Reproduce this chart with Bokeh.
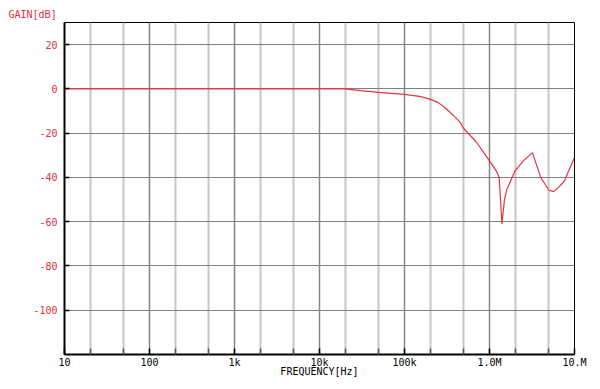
from bokeh.plotting import figure
from bokeh.models import FixedTicker, Title
from bokeh.embed import file_html
from bokeh.resources import INLINE

# Frequency response data
freq_hz = [10, 20000, 30000, 50000, 70000, 100000, 150000, 200000, 250000,
           300000, 400000, 450000, 500000, 700000, 1000000, 1200000, 1300000,
           1400000, 1500000, 1600000, 2000000, 2500000, 3200000, 4000000,
           5000000, 5700000, 6500000, 7600000, 10000000]
gain_db = [0, 0, -0.8, -1.6, -2.0, -2.5, -3.4, -4.6, -6.2,
           -8.5, -13.0, -15.0, -18.0, -24.0, -32.5, -37.0, -40.0,
           -61.0, -50.0, -45.4, -37.0, -32.5, -28.8, -40.0,
           -45.8, -46.4, -44.5, -41.6, -31.0]

x_ticks = [10, 100, 1000, 10000, 100000, 1000000, 10000000]
x_tick_labels = ["10", "100", "1k", "10k", "100k", "1.0M", "10.M"]
x_minor_ticks = [20, 50, 200, 500, 2000, 5000, 20000, 50000,
                 200000, 500000, 2000000, 5000000]
y_ticks = [20, 0, -20, -40, -60, -80, -100]
y_tick_labels = ["20", "0", "-20", "-40", "-60", "-80", "-100"]

FONT = "DejaVu Sans Mono"
RED = "#e0303c"

p = figure(width=592, height=381, x_axis_type="log",
           x_range=(10, 10000000), y_range=(-120, 30),
           output_backend="svg", toolbar_location=None,
           min_border_left=64, min_border_right=18,
           min_border_top=22, min_border_bottom=27)
p.background_fill_color = "white"
p.border_fill_color = "white"
p.outline_line_color = "black"
p.outline_line_width = 1

xt = FixedTicker(ticks=x_ticks, minor_ticks=x_minor_ticks)
p.xaxis.ticker = xt
p.xgrid.ticker = xt
p.xaxis.major_label_overrides = {t: l for t, l in zip(x_ticks, x_tick_labels)}
p.xgrid.grid_line_color = "#858585"
p.xgrid.grid_line_width = 1.5
p.xgrid.minor_grid_line_color = "#c4c4c4"
p.xgrid.minor_grid_line_width = 2

yt = FixedTicker(ticks=y_ticks, minor_ticks=[])
p.yaxis.ticker = yt
p.ygrid.ticker = yt
p.yaxis.major_label_overrides = {t: l for t, l in zip(y_ticks, y_tick_labels)}
p.ygrid.grid_line_color = "#808080"
p.ygrid.grid_line_width = 1

for ax in (p.xaxis, p.yaxis):
    ax.axis_line_color = "black"
    ax.axis_line_width = 2
    ax.major_tick_line_color = "black"
    ax.major_tick_line_width = 1.5
    ax.major_tick_out = 0
    ax.major_label_text_font = FONT
    ax.major_label_text_font_size = "10px"

p.xaxis.major_tick_in = 6
p.xaxis.minor_tick_in = 6
p.xaxis.minor_tick_out = 0
p.xaxis.minor_tick_line_color = "#555555"
p.xaxis.minor_tick_line_width = 1.5
p.xaxis.major_label_standoff = 2
p.xaxis.major_label_text_color = "black"
p.xaxis.axis_label = "FREQUENCY[Hz]"
p.xaxis.axis_label_text_font = FONT
p.xaxis.axis_label_text_font_size = "10px"
p.xaxis.axis_label_text_font_style = "normal"
p.xaxis.axis_label_text_color = "black"
p.xaxis.axis_label_standoff = -5

p.yaxis.major_tick_in = 5
p.yaxis.minor_tick_line_color = None
p.yaxis.major_label_standoff = 7
p.yaxis.major_label_text_color = RED

p.line(freq_hz, gain_db, line_color="#e8323c", line_width=1.2)

p.add_layout(Title(text="GAIN[dB]", align="left", offset=-56,
                   text_font=FONT, text_font_size="10px",
                   text_font_style="normal", text_color=RED,
                   standoff=6), "above")

open("out.html", "w").write(file_html(p, INLINE))
